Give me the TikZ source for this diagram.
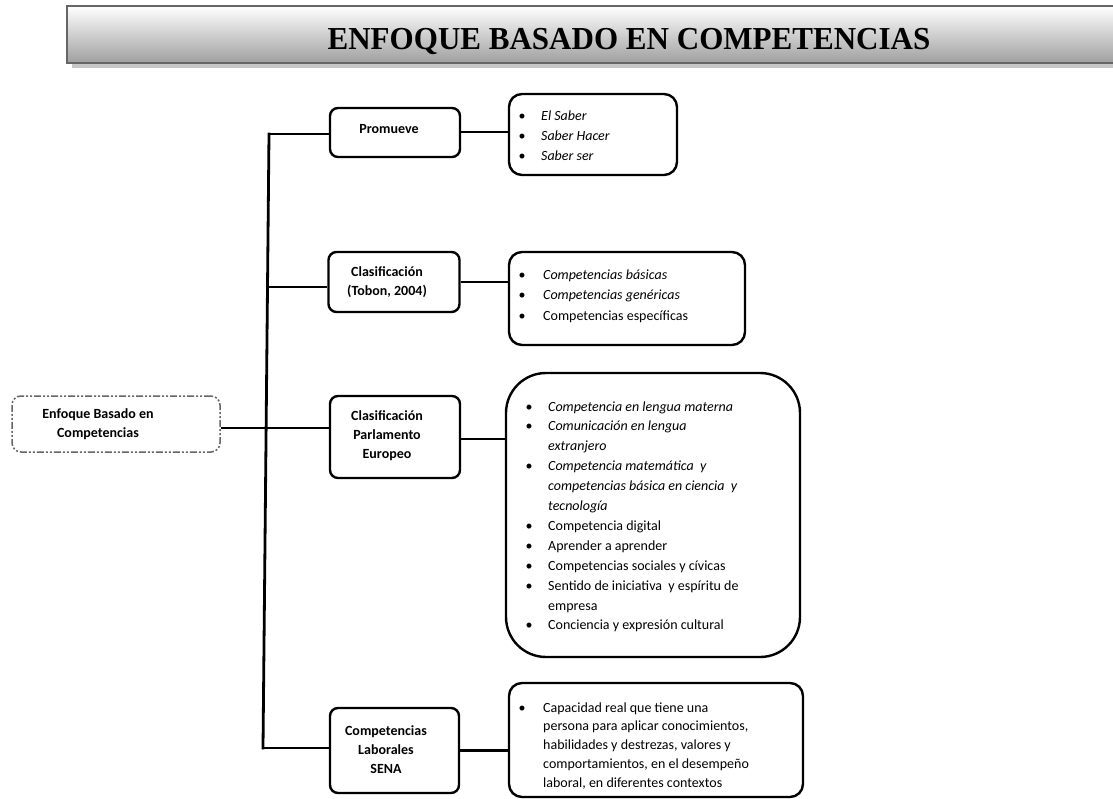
\documentclass[tikz,border=0pt]{standalone}
\usepackage{fontspec}
\setmainfont{Carlito}
\newfontfamily\titlefont[BoldFont={Liberation Serif Bold}]{Liberation Serif}
\usetikzlibrary{calc}
\begin{document}
\begin{tikzpicture}[x=1pt,y=-1pt,
  midbox/.style={draw=black,line width=2.4pt,rounded corners=8pt,fill=white},
  outbox/.style={draw=black,line width=2.4pt,rounded corners=13pt,fill=white},
  link/.style={draw=black,line width=2.2pt},
  mtxt/.style={font=\fontsize{14}{19}\selectfont\bfseries,align=center,inner sep=0pt},
  ltxt/.style={font=\fontsize{14}{19}\selectfont,anchor=base west,inner sep=0pt},
  btxt/.style={font=\fontsize{14}{19}\selectfont,anchor=base,inner sep=0pt}]
\useasboundingbox (0,0) rectangle (1113,799);
% title bar
\fill[gray!45] (72,11) rectangle (1113,68);
\shade[top color=white,bottom color=gray!75] (67,6) rectangle (1113,63);
\draw[draw=black!60,line width=2.6pt] (1113,6) -- (67,6) -- (67,63) -- (1113,63);
\node[font=\titlefont\bfseries\fontsize{32}{36}\selectfont,inner sep=0pt,anchor=base,xscale=0.97] (title) at (629,50) {ENFOQUE BASADO EN COMPETENCIAS};
% left root box
\node[draw=black!60,line width=1.5pt,rounded corners=9pt,
  dash pattern=on 7pt off 2pt on 2pt off 2pt on 2pt off 2pt,
  minimum width=208pt,minimum height=56pt,inner sep=0pt] (root) at (116,424) {};
\node[mtxt,anchor=center] (roottxt) at (98,424) {Enfoque Basado en\\Competencias};
% middle boxes
\node[midbox,minimum width=130pt,minimum height=49pt] (m1) at (395,132.5) {};
\node[mtxt] (m1t) at (389,129) {Promueve};
\node[midbox,minimum width=131pt,minimum height=60pt] (m2) at (394,282) {};
\node[mtxt] (m2t) at (387,282) {Clasificación\\(Tobon, 2004)};
\node[midbox,minimum width=130pt,minimum height=82pt] (m3) at (395,437) {};
\node[mtxt] (m3t) at (387,436) {Clasificación\\Parlamento\\Europeo};
\node[midbox,minimum width=129pt,minimum height=85pt] (m4) at (394.5,750.5) {};
\node[mtxt] (m4t) at (386,750) {Competencias\\Laborales\\SENA};
% right boxes
\node[outbox,minimum width=168pt,minimum height=81pt] (r1) at (593,134.5) {};
\node[outbox,minimum width=236pt,minimum height=93pt] (r2) at (627,298.5) {};
\node[outbox,rounded corners=40pt,minimum width=294pt,minimum height=284pt] (r3) at (653,515) {};
\node[outbox,minimum width=294pt,minimum height=114pt] (r4) at (656,740) {};
% spine
\coordinate (top) at (269,134);
\coordinate (bot) at (263,748);
\coordinate (mid) at (266,428);
\draw[link,line width=2.8pt,line cap=rect] (top) -- (bot);
\draw[link,line width=2.8pt] (root.east |- mid) -- (mid);
\draw[link,line width=2.8pt] (top) -- (top -| m1.west);
\draw[link,line width=2.8pt] (mid -| top) ++(-1.5,-141) coordinate (c2) -- (c2 -| m2.west);
\draw[link,line width=2.8pt] (mid) -- (mid -| m3.west);
\draw[link,line width=2.8pt] (bot) -- (bot -| m4.west);
% middle to right
\draw[link] (m1.east |- 0,132) -- (r1.west |- 0,132);
\draw[link] (m2.east) -- (r2.west |- m2.east);
\draw[link] (m3.east |- 0,439) -- (r3.west |- 0,439);
\draw[link] (m4.east) -- (r4.west |- m4.east);
% box 1 text
\foreach \t [count=\i] in {El Saber,Saber Hacer,Saber ser}{
  \node[btxt] (r1b\i) at (522,121+20*\i-20) {\textbullet};
  \node[ltxt] (r1t\i) at (541,121+20*\i-20) {\itshape\t};
}
% box 2 text
\foreach \i in {1,2,3}{\node[btxt] (r2b\i) at (522,280+20*\i-20) {\textbullet};}
\node[ltxt] (r2t1) at (543,280) {\itshape Competencias básicas};
\node[ltxt] (r2t2) at (543,300) {\itshape Competencias genéricas};
\node[ltxt] (r2t3) at (543,320) {Competencias específicas};
% box 3 text
\foreach \b/\t [count=\i] in {1/{\itshape Competencia en lengua materna},
  1/{\itshape Comunicación en lengua},
  0/{\itshape extranjero},
  1/{\itshape Competencia matemática \ y},
  0/{\itshape competencias básica en ciencia \ y},
  0/{\itshape tecnología},
  1/{Competencia digital},
  1/{Aprender a aprender},
  1/{Competencias sociales y cívicas},
  1/{Sentido de iniciativa \ y espíritu de},
  0/{empresa},
  1/{Conciencia y expresión cultural}}{
  \node[ltxt] (r3t\i) at (548,411+19.9*\i-19.9) {\t};
  \ifnum\b=1 \node[btxt] (r3b\i) at (529,411+19.9*\i-19.9) {\textbullet};\fi
}
% box 4 text
\node[btxt] (r4b1) at (522,712) {\textbullet};
\foreach \t [count=\i] in {Capacidad real que tiene una,
  {persona para aplicar conocimientos,},
  {habilidades y destrezas, valores y},
  {comportamientos, en el desempeño},
  {laboral, en diferentes contextos}}{
  \node[ltxt] (r4t\i) at (543,712+18.75*\i-18.75) {\t};
}
\end{tikzpicture}
\end{document}
